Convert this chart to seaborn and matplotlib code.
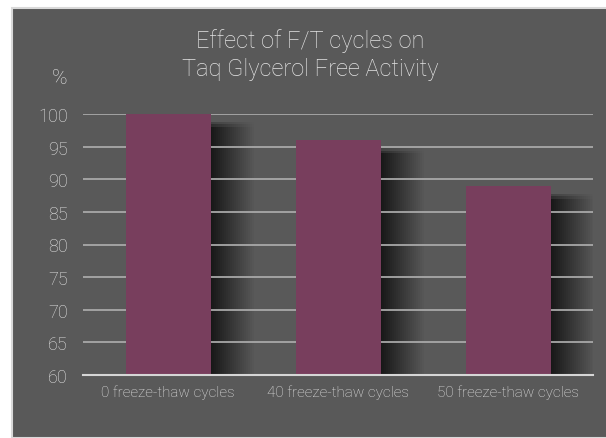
import matplotlib
matplotlib.use("Agg")
import matplotlib.pyplot as plt
import matplotlib.patches as mpatches
import numpy as np
import seaborn as sns

categories = ["0 freeze-thaw cycles", "40 freeze-thaw cycles", "50 freeze-thaw cycles"]
activity = [100, 96, 89]
y_ticks = [60, 65, 70, 75, 80, 85, 90, 95, 100]

panel_bg = "#595959"
bar_color = "#783e5d"
text_color = "#e4e4e4"

sns.set_style("dark")
plt.rcParams["font.family"] = ["Roboto", "DejaVu Sans"]
plt.rcParams["font.weight"] = "light"

fig = plt.figure(figsize=(6.06, 4.39), dpi=100, facecolor="white")
fig.patches.append(mpatches.Rectangle((12 / 606, 0), 1, 1 - 9 / 439, transform=fig.transFigure,
                                      facecolor=panel_bg, edgecolor="#d9d9d9", linewidth=1.5, zorder=-5))

ax = fig.add_axes([83 / 606, 1 - 376 / 439, 510 / 606, 261 / 439])
ax.set_facecolor(panel_bg)
ax.set_axisbelow(True)

# soft drop shadow to the right of each bar (blurred in x and a little in y)
xpos = np.arange(len(categories))
vals = np.array(activity)
for k in range(22):
    dx = 0.0115 * (k + 1)
    for drop in (1.2, 1.6, 2.0):
        ax.bar(xpos + dx, vals - drop, width=0.5, color="black",
               alpha=0.0068, linewidth=0, zorder=0.3)

sns.barplot(x=categories, y=activity, color=bar_color, saturation=1, width=0.5,
            linewidth=0, ax=ax, zorder=2)

ax.set_ylim(60, 100)
ax.set_xlim(-0.5, 2.5)
ax.set_yticks(y_ticks)
ax.grid(axis="y", color="#a8a8a8", linewidth=1.3)
ax.grid(axis="x", visible=False)
for side in ["top", "right", "left"]:
    ax.spines[side].set_visible(False)
ax.spines["bottom"].set_color("#d6d6d6")
ax.spines["bottom"].set_linewidth(1.5)
ax.tick_params(axis="y", length=0, pad=11, labelsize=13, labelcolor=text_color)
ax.tick_params(axis="x", length=0, pad=7, labelsize=11, labelcolor=text_color)
ax.set_xlabel("")
ax.set_ylabel("")

fig.text(310 / 606, 1 - 55 / 439, "Effect of F/T cycles on\nTaq Glycerol Free Activity",
         ha="center", va="center", fontsize=17, color=text_color, linespacing=1.3)
fig.text(60 / 606, 1 - 79 / 439, "%", ha="center", va="center", fontsize=15, color=text_color)

fig.savefig("out.png", dpi=100, facecolor=fig.get_facecolor())
